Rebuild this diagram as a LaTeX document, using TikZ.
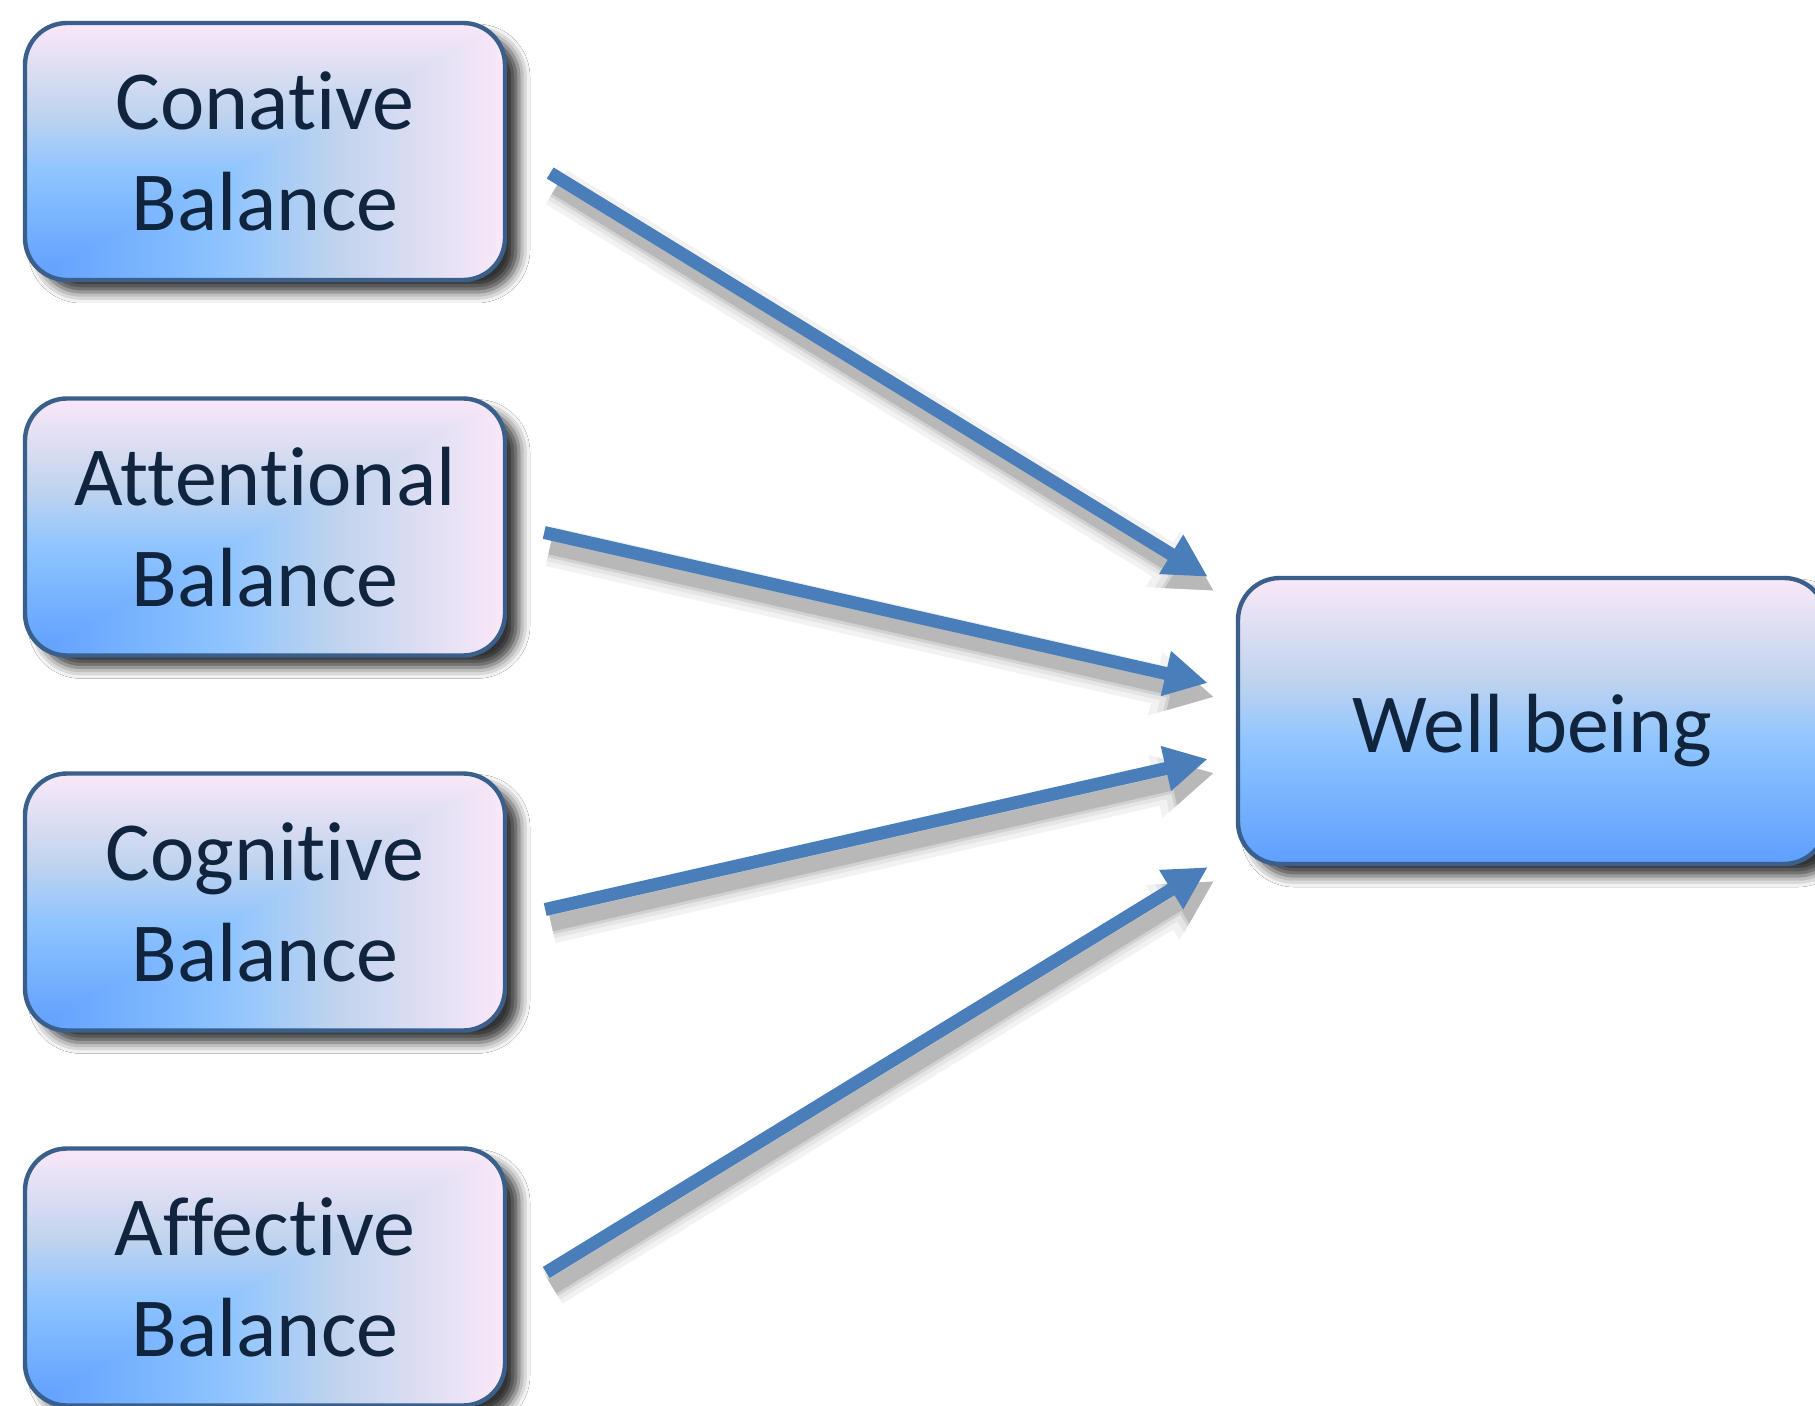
\documentclass[tikz,border=0pt]{standalone}
\usepackage{fontspec}
\setmainfont{Carlito}[Ligatures=NoCommon]
\usepackage{tikz}
\usetikzlibrary{arrows.meta,shadows.blur}
\definecolor{dbBlue}{HTML}{5E9EFF}
\definecolor{dbSky}{HTML}{8EC4FF}
\definecolor{dbMist}{HTML}{C0D4EE}
\definecolor{dbPink}{HTML}{FAE8F8}
\definecolor{boxedge}{HTML}{3A5F8B}
\definecolor{arrowblue}{HTML}{4A7EBB}
\definecolor{textnavy}{HTML}{10243E}
\pgfdeclareverticalshading{dbv}{100bp}{color(0bp)=(dbBlue); color(25bp)=(dbBlue); color(46bp)=(dbSky); color(57.5bp)=(dbMist); color(75bp)=(dbPink); color(100bp)=(dbPink)}
% corner gradient: colour follows max(x,y), from the lower left corner
\pgfdeclarefunctionalshading{dbcorner}{\pgfpoint{0bp}{0bp}}{\pgfpoint{100bp}{100bp}}{}{
  2 copy gt {pop} {exch pop} ifelse 25 sub 50 div
  dup 0 lt {pop 0} if dup 1 gt {pop 1} if
  dup 0.42 lt
  { 0.42 div dup 0.188 mul 0.369 add exch dup 0.149 mul 0.620 add exch 0 mul 1 add }
  { dup 0.65 lt
    { 0.42 sub 0.23 div dup 0.196 mul 0.557 add exch dup 0.062 mul 0.769 add exch -0.067 mul 1 add }
    { 0.65 sub 0.35 div dup 0.227 mul 0.753 add exch dup 0.079 mul 0.831 add exch 0.040 mul 0.933 add }
    ifelse }
  ifelse
}

\begin{document}
\begin{tikzpicture}[x=0.5pt,y=-0.5pt]
  \tikzset{boxbase/.style={draw=boxedge, line width=2.2pt, rounded corners=21pt,
      text=textnavy, align=center, inner sep=0pt,
      font=\fontsize{42}{50.5}\selectfont,
      blur shadow={shadow xshift=7pt, shadow yshift=-6pt, shadow blur radius=5.5pt, shadow opacity=80}}}
  \tikzset{balstyle/.style={boxbase, shading=dbcorner, minimum width=240pt, minimum height=128.5pt}}
  \tikzset{wellstyle/.style={boxbase, shading=dbv, minimum width=294pt, minimum height=143pt,
      text height=40pt, text depth=9pt}}
  \tikzset{arrstyle/.style={draw=arrowblue, line width=6.5pt, -{Triangle[length=21.5pt,width=21.5pt]}}}
  \tikzset{arrshade/.style={line width=#1, transform canvas={shift={(3pt,-7pt)}}}}
  \clip (0,0) rectangle (1815,1406);
  \fill[white] (0,0) rectangle (1815,1406);
  \node[balstyle] (cona) at (265,151.5) {Conative\\Balance};
  \node[balstyle] (atte) at (265,527) {Attentional\\Balance};
  \node[balstyle] (cogn) at (265,902) {Cognitive\\Balance};
  \node[balstyle] (affe) at (265,1277) {Affective\\Balance};
  \node[wellstyle] (well) at (1532,721) {Well being};
  \coordinate (s1) at ([shift={(43,21.5)}]cona.east);
  \coordinate (s2) at ([shift={(37,5.5)}]atte.east);
  \coordinate (s3) at ([shift={(38,7.5)}]cogn.east);
  \coordinate (s4) at ([shift={(39,-4.5)}]affe.east);
  \coordinate (t1) at ([shift={(-28,1)}]well.north west);
  \coordinate (t2) at ([shift={(-28,-38)}]well.west);
  \coordinate (t3) at ([shift={(-28,38)}]well.west);
  \coordinate (t4) at ([shift={(-28,1)}]well.south west);
  \foreach \s/\t in {s1/t1,s2/t2,s3/t3,s4/t4} {
    \foreach \w/\h/\g in {20/30/5,15/26/10,11/23/18,8/21.5/28}
      \draw[arrshade=\w pt, draw=black!\g, -{Triangle[length=\h pt,width=\h pt]}] (\s) -- (\t);
    \draw[arrstyle] (\s) -- (\t);
  }
\end{tikzpicture}
\end{document}
